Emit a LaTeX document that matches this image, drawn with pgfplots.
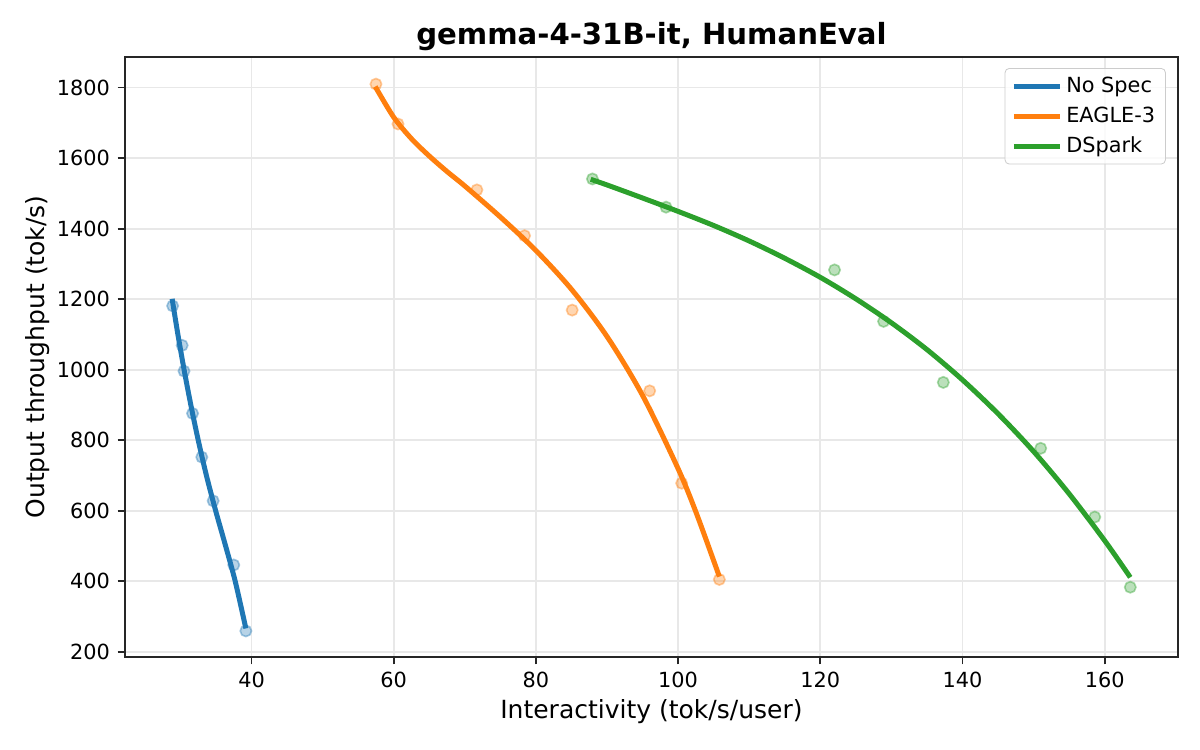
\documentclass[border=0pt]{standalone}
\usepackage{pgfplots}
\pgfplotsset{compat=1.18}
\usepackage{fontspec}
\setmainfont{DejaVu Sans}
\definecolor{cblue}{HTML}{1F77B4}
\definecolor{corange}{HTML}{FF7F0E}
\definecolor{cgreen}{HTML}{2CA02C}
\definecolor{spine}{HTML}{262626}
\begin{document}
\begin{tikzpicture}
\useasboundingbox (-60bp,-44.64bp) rectangle (516bp,315.36bp);
\begin{axis}[
  at={(0,0)}, anchor=south west,
  width=505.4bp, height=288bp, scale only axis,
  xmin=22.2, xmax=170.3, ymin=185, ymax=1887,
  xtick={40,60,...,160}, ytick={200,400,...,1800},
  tick align=outside, major tick length=3.5bp,
  xtick pos=bottom, ytick pos=left,
  tick style={spine, line width=0.8bp},
  axis line style={spine, line width=0.8bp},
  grid=major, grid style={black!9, line width=0.8bp},
  /pgf/number format/assume math mode=true,
  /pgf/number format/1000 sep={},
  ticklabel style={font=\fontsize{10bp}{12bp}\selectfont, inner sep=0pt},
  xticklabel style={yshift=-3.5bp},
  yticklabel style={xshift=-3.5bp},
  title={gemma-4-31B-it, HumanEval},
  every axis title/.style={at={(axis description cs:0.5,1)}, anchor=base, inner sep=0pt, yshift=5.8bp,
    font=\bfseries\fontsize{14bp}{16bp}\selectfont},
  xlabel={Interactivity (tok/s/user)},
  xlabel style={at={(axis description cs:0.5,0)}, anchor=base, inner sep=0pt, yshift=-29.3bp,
    font=\fontsize{12bp}{14bp}\selectfont},
  ylabel={Output throughput (tok/s)},
  ylabel style={at={(axis description cs:-0.076,0.5)}, anchor=base, inner sep=0pt,
    font=\fontsize{12bp}{14bp}\selectfont},
  legend style={at={(axis description cs:1,1)}, anchor=north east, xshift=-5.8bp, yshift=-5.3bp,
    draw=black!20, rounded corners=2bp, fill=white, fill opacity=0.8, text opacity=1,
    inner xsep=3bp, inner ysep=2bp, row sep=1.5bp,
    font=\fontsize{10bp}{12bp}\selectfont},
  legend cell align=left,
  legend image code/.code={\draw[#1, mark=none] (0bp,0bp) -- (22bp,0bp);},
]
% scatter points
\addplot[only marks, mark=*, mark size=2.7bp, forget plot,
  mark options={fill=cblue, fill opacity=0.32, draw=cblue, draw opacity=0.4, line width=0.8bp}]
  coordinates {(28.9,1181) (30.24,1069) (30.5,996) (31.7,876) (33.0,752) (34.6,628) (37.5,446) (39.2,259)};
\addplot[only marks, mark=*, mark size=2.7bp, forget plot,
  mark options={fill=corange, fill opacity=0.32, draw=corange, draw opacity=0.4, line width=0.8bp}]
  coordinates {(57.5,1810) (60.6,1697) (71.7,1510) (78.4,1380) (85.1,1169) (96.0,940) (100.5,678) (105.8,405)};
\addplot[only marks, mark=*, mark size=2.7bp, forget plot,
  mark options={fill=cgreen, fill opacity=0.32, draw=cgreen, draw opacity=0.4, line width=0.8bp}]
  coordinates {(87.95,1541) (98.3,1461) (122.0,1283) (128.9,1137) (137.3,964) (151.0,777) (158.6,582) (163.6,383)};
% fitted curves
\addplot[cblue, line width=2.4bp, smooth, no marks]
  coordinates {(28.83,1201) (29.64,1100) (30.51,1000) (31.46,900) (32.5,800) (33.65,700) (34.95,600) (36.35,500) (37.7,400) (39.2,266)};
\addlegendentry{No Spec}
\addplot[corange, line width=2.4bp, smooth, no marks]
  coordinates {(57.4,1803) (60,1716) (62.5,1655) (65,1606) (67.5,1562) (70,1521) (75,1433) (80,1338) (85,1228) (90,1094) (95,927) (100,719) (102.6,591) (105.8,413)};
\addlegendentry{EAGLE-3}
\addplot[cgreen, line width=2.4bp, smooth, no marks]
  coordinates {(87.7,1540) (90,1524) (95,1487) (100,1449) (105,1409) (110,1365) (115,1316) (120,1262) (125,1201) (130,1133) (135,1057) (140,971) (145,875) (150,768) (155,648) (160,515) (163.6,411)};
\addlegendentry{DSpark}
\end{axis}
\end{tikzpicture}
\end{document}
